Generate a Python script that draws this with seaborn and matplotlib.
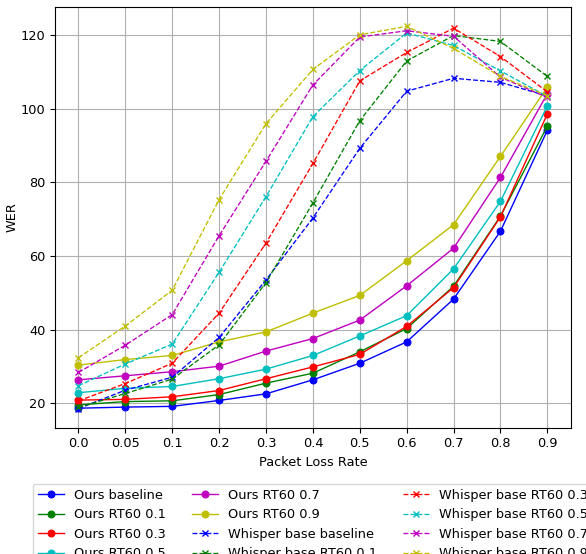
import matplotlib
matplotlib.use("Agg")
import matplotlib.pyplot as plt
import seaborn as sns
import pandas as pd

plt.rcParams["font.size"] = 9.3

loss_rates = ["0.0", "0.05", "0.1", "0.2", "0.3", "0.4", "0.5", "0.6", "0.7", "0.8", "0.9"]

ours_baseline = [18.7, 19.0, 19.2, 20.8, 22.6, 26.4, 30.9, 36.7, 48.3, 66.7, 94.1]
ours_rt01 = [19.6, 20.5, 20.7, 22.4, 25.5, 28.2, 34.0, 40.3, 51.8, 70.8, 95.2]
ours_rt03 = [20.9, 21.1, 21.8, 23.5, 26.7, 29.9, 33.3, 40.9, 51.4, 70.6, 98.5]
ours_rt05 = [22.9, 24.1, 24.6, 26.7, 29.3, 33.0, 38.3, 43.8, 56.5, 74.8, 100.7]
ours_rt07 = [26.4, 27.5, 28.6, 30.1, 34.2, 37.6, 42.6, 51.9, 62.1, 81.3, 104.0]
ours_rt09 = [30.4, 31.9, 33.0, 36.7, 39.4, 44.5, 49.3, 58.7, 68.5, 87.0, 105.8]

whisper_baseline = [18.6, 23.6, 27.1, 37.9, 53.5, 70.3, 89.2, 104.7, 108.2, 107.1, 103.4]
whisper_rt01 = [18.9, 22.7, 26.6, 35.9, 52.8, 74.4, 96.7, 112.9, 119.8, 118.2, 108.7]
whisper_rt03 = [20.7, 25.4, 30.9, 44.5, 63.5, 85.1, 107.5, 115.2, 121.8, 114.1, 104.5]
whisper_rt05 = [24.8, 30.7, 36.1, 55.6, 76.1, 97.8, 110.3, 120.5, 117.1, 110.2, 103.3]
whisper_rt07 = [28.4, 35.8, 44.1, 65.5, 85.7, 106.4, 119.4, 121.1, 119.6, 108.5, 103.0]
whisper_rt09 = [32.4, 41.0, 50.7, 75.3, 95.9, 110.6, 120.0, 122.3, 116.3, 108.7, 103.5]

ours_labels = ["Ours baseline", "Ours RT60 0.1", "Ours RT60 0.3",
               "Ours RT60 0.5", "Ours RT60 0.7", "Ours RT60 0.9"]
whisper_labels = ["Whisper base baseline", "Whisper base RT60 0.1", "Whisper base RT60 0.3",
                  "Whisper base RT60 0.5", "Whisper base RT60 0.7", "Whisper base RT60 0.9"]
colors = ["b", "g", "r", "c", "m", "y"]

ours_series = [ours_baseline, ours_rt01, ours_rt03, ours_rt05, ours_rt07, ours_rt09]
whisper_series = [whisper_baseline, whisper_rt01, whisper_rt03, whisper_rt05, whisper_rt07, whisper_rt09]

fig = plt.figure(figsize=(5.86, 5.54), dpi=100)
ax = fig.add_axes([0.0939, 0.228, 0.974 - 0.0939, 0.987 - 0.228])

xpos = list(range(len(loss_rates)))

for lab, col, vals in zip(ours_labels, colors, ours_series):
    df = pd.DataFrame({"x": xpos, "y": vals})
    sns.lineplot(data=df, x="x", y="y", ax=ax, color=col, marker="o", markersize=5,
                 markeredgecolor=col, linewidth=1.0, linestyle="-", label=lab,
                 errorbar=None, sort=False, legend=False)

for lab, col, vals in zip(whisper_labels, colors, whisper_series):
    df = pd.DataFrame({"x": xpos, "y": vals})
    sns.lineplot(data=df, x="x", y="y", ax=ax, color=col, marker="x", markersize=5,
                 markeredgecolor=col, markeredgewidth=1.0, linewidth=0.95, linestyle="--",
                 label=lab, errorbar=None, sort=False, legend=False)

ax.set_xticks(xpos)
ax.set_xticklabels(loss_rates)
ax.set_xlabel("Packet Loss Rate")
ax.set_ylabel("WER", labelpad=1.5)
ax.grid(True, color="#b0b0b0", linewidth=0.8)
ax.set_axisbelow(True)

handles, labels = ax.get_legend_handles_labels()
ax.legend(handles, labels, ncol=3, loc="upper center", bbox_to_anchor=(0.5, -0.118),
          frameon=True)

fig.savefig("out.png", dpi=100)
